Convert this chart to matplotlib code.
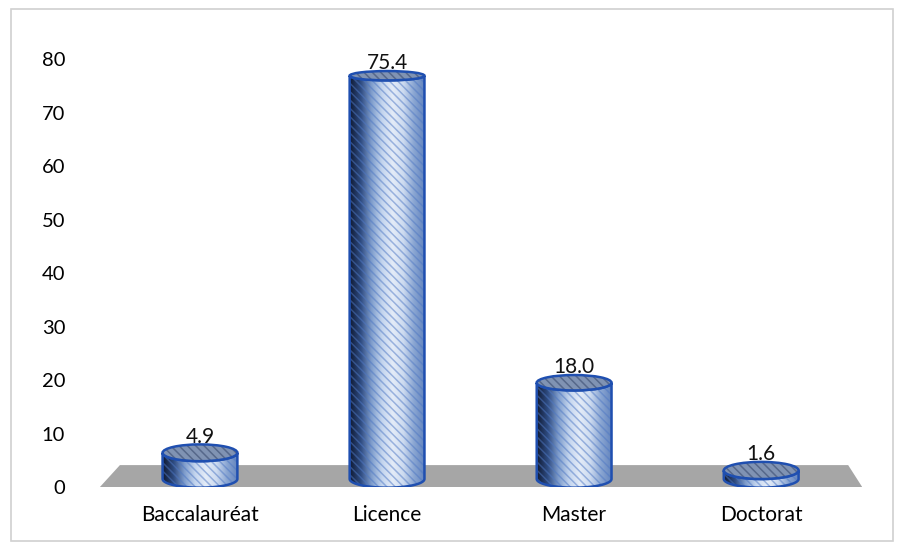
import numpy as np
import matplotlib.pyplot as plt
from matplotlib.patches import Polygon, Ellipse, PathPatch, Rectangle
from matplotlib.path import Path
from matplotlib.colors import LinearSegmentedColormap

plt.rcParams['font.family'] = ['Lato', 'DejaVu Sans']
plt.rcParams['hatch.linewidth'] = 1.1

# data
categories = ['Baccalauréat', 'Licence', 'Master', 'Doctorat']
values = [4.9, 75.4, 18.0, 1.6]
y_ticks = [0, 10, 20, 30, 40, 50, 60, 70, 80]

BASE = 1.5        # cylinders stand in the middle of the grey floor
HALF_W = 0.2      # half bar width in category units
FLOOR_H = 4.1
PX_PER_UNIT = 5.35

body_cmap = LinearSegmentedColormap.from_list(
    'cyl', ['#111c36', '#2f4c82', '#7f9dcc', '#c4d5ee', '#e4ecf8', '#cddbf0', '#8aa6d2', '#6384bd'])


def ellipse_h(y):
    # flatter ellipses higher up (perspective), in data units
    px = 9 + (80 - y) / 80 * 8.5
    return px / PX_PER_UNIT


def half_arc(cx, cy, w, h, n=40):
    t = np.linspace(np.pi, 2 * np.pi, n)
    return np.column_stack([cx + w * np.cos(t), cy + h / 2 * np.sin(t)])


fig = plt.figure(figsize=(9, 5.5), dpi=100)
fig.patches.append(Rectangle((0.012, 0.016), 0.98, 0.968, transform=fig.transFigure,
                             fill=False, edgecolor='#d0d0d0', linewidth=1.2))
ax = fig.add_axes([0.111, 0.1145, 0.847, 0.778])
ax.set_xlim(-0.535, 3.54)
ax.set_ylim(0, 80)
for s in ax.spines.values():
    s.set_visible(False)

# grey floor
ax.add_patch(Polygon([(-0.535, 0), (3.54, 0), (3.465, FLOOR_H), (-0.428, FLOOR_H)],
                     closed=True, facecolor='#a6a6a6', edgecolor='none', zorder=1))

for i, v in enumerate(values):
    top = BASE + v
    hb = ellipse_h(BASE)
    ht = ellipse_h(top)
    left, right = i - HALF_W, i + HALF_W

    # body outline: left side, lower half of base ellipse, right side, lower half of top
    pts = [(left, top), (left, BASE)]
    pts += list(map(tuple, half_arc(i, BASE, HALF_W, hb)))
    pts += [(right, top)]
    pts += list(map(tuple, half_arc(i, top, HALF_W, ht)[::-1]))
    body = Path(pts + [pts[0]], closed=True)

    grad = np.linspace(0, 1, 200).reshape(1, -1)
    im = ax.imshow(grad, cmap=body_cmap, aspect='auto',
                   extent=(left, right, BASE - hb, top), zorder=2)
    clip = PathPatch(body, transform=ax.transData, facecolor='none', edgecolor='none')
    ax.add_patch(clip)
    im.set_clip_path(clip)

    ax.add_patch(PathPatch(body, facecolor='none', edgecolor='#4f78c4', hatch='\\\\\\\\',
                           linewidth=0, alpha=0.5, zorder=3))
    ax.add_patch(PathPatch(body, facecolor='none', edgecolor='#1f4fb0', linewidth=1.8, zorder=4))

    # top lid
    ax.add_patch(Ellipse((i, top), 2 * HALF_W, ht, facecolor='#8093b3', edgecolor='none', zorder=5))
    ax.add_patch(Ellipse((i, top), 2 * HALF_W, ht, facecolor='none', edgecolor='#56688a',
                         hatch='\\\\\\\\', linewidth=0, zorder=6))
    ax.add_patch(Ellipse((i, top), 2 * HALF_W, ht, facecolor='none', edgecolor='#1f4fb0',
                         linewidth=1.8, zorder=7))

    ax.text(i, top + ht / 2 + 0.3, f'{v:.1f}', ha='center', va='baseline', fontsize=15,
            color='#111111', zorder=8)

ax.set_yticks(y_ticks)
ax.set_yticklabels([str(t) for t in y_ticks], fontsize=14.5)
ax.tick_params(axis='y', length=0, pad=25)
ax.set_xticks(range(len(categories)))
ax.set_xticklabels(categories, fontsize=15)
ax.tick_params(axis='x', length=0, pad=13)

fig.savefig('out.png', dpi=100)
